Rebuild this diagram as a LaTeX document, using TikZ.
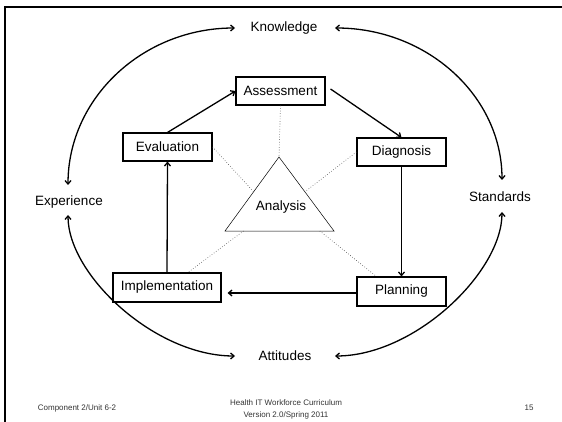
\documentclass[tikz,border=0pt]{standalone}
\usepackage{fontspec}
\setmainfont{Liberation Sans}
\usetikzlibrary{arrows.meta,calc}
\begin{document}
\begin{tikzpicture}[x=1pt,y=-1pt,
  box/.style={draw,line width=1.1pt,minimum width=89pt,minimum height=28pt,inner sep=0pt,font=\fontsize{13.5}{15}\selectfont},
  lbl/.style={inner sep=0pt,font=\fontsize{13.5}{15}\selectfont},
  flow/.style={line width=1.3pt,-{Straight Barb[length=3.5pt,width=6pt]}},
  cyc/.style={line width=1.3pt,{Straight Barb[length=3.5pt,width=6pt]}-{Straight Barb[length=3.5pt,width=6pt]}},
  dotl/.style={dotted,line width=0.6pt,black!75},
  foot/.style={inner sep=0pt,font=\fontsize{8}{12}\selectfont,text=black!80,align=center}]
\useasboundingbox (0,0) rectangle (562,422);
\draw[line width=1.6pt] (562,7) -- (5,7) -- (5,422);
% process boxes
\node[box] (ass) at (280.5,91) {Assessment};
\node[box] (eva) at (167.5,147) {Evaluation};
\node[box] (dia) at (401.5,152) {Diagnosis};
\node[box,minimum width=108pt,minimum height=29pt] (imp) at (167,287.5) {Implementation};
\node[box,minimum height=29pt] (pla) at (401.5,291.5) {Planning};
% analysis triangle
\coordinate (ta) at (279,157);
\coordinate (tl) at (225,231);
\coordinate (tr) at (334,231);
\draw[line width=0.5pt] (ta) -- (tl) -- (tr) -- cycle;
\node[lbl] (ana) at (281,207) {Analysis};
% outer labels
\node[lbl] (kno) at (284,28) {Knowledge};
\node[lbl] (exp) at (69,202) {Experience};
\node[lbl] (sta) at (500,197) {Standards};
\node[lbl] (att) at (285,356) {Attitudes};
% arc ends
\coordinate (kL) at (235,28);
\coordinate (kR) at (335,28);
\coordinate (eT) at (68,185);
\coordinate (eB) at (68,215);
\coordinate (sT) at (502,180);
\coordinate (sB) at (502,212);
\coordinate (aL) at (235,356);
\coordinate (aR) at (335,356);
\draw[cyc] (eT) .. controls (68,98) and (143,28) .. (kL);
\draw[cyc] (kR) .. controls (427,28) and (502,96) .. (sT);
\draw[cyc] (eB) .. controls (68,275) and (155,356) .. (aL);
\draw[cyc] (sB) .. controls (502,272) and (415,356) .. (aR);
% dotted links
\draw[dotl] (ass.south) -- (ta);
\draw[dotl] (eva.east) -- ($(ta)!0.47!(tl)$);
\draw[dotl] (dia.west) -- ($(ta)!0.47!(tr)$);
\draw[dotl] ($(tl)!0.17!(tr)$) -- ($(imp.north)+(21,0)$);
\draw[dotl] ($(tl)!0.87!(tr)$) -- ($(pla.north west)+(20,0)$);
% cycle arrows
\draw[flow] (eva.north) -- (ass.west);
\draw[flow] ($(ass.east)+(5,-2)$) -- (dia.north);
\draw[flow] (dia.south) -- (pla.north);
\draw[flow] ($(pla.west)+(0,1.5)$) -- ($(imp.east)+(6,5.5)$);
\draw[flow] (imp.north) -- (eva.south);
% footer
\node[foot] (f1) at (77,408) {Component 2/Unit 6-2};
\node[foot] (f2) at (286,409) {Health IT Workforce Curriculum\\Version 2.0/Spring 2011};
\node[foot] (f3) at (529,408) {15};
\end{tikzpicture}
\end{document}
